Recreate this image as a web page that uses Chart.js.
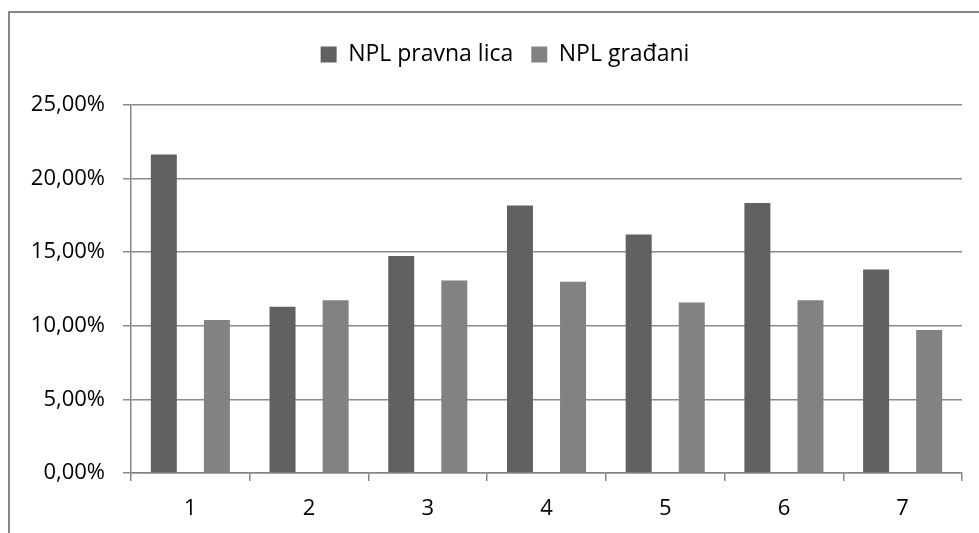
<!DOCTYPE html>
<html>
<head>
<meta charset="utf-8">
<script src="https://cdn.jsdelivr.net/npm/chart.js@4.4.0/dist/chart.umd.min.js"></script>
<style>
  body { margin: 0; background: #fff; }
  #wrap { position: relative; width: 979px; height: 533px; }
</style>
</head>
<body>
<div id="wrap"><canvas id="chart"></canvas></div>
<script>
const categories = ['1', '2', '3', '4', '5', '6', '7'];
const nplPravnaLica = [21.64, 11.30, 14.74, 18.18, 16.21, 18.34, 13.83];
const nplGradjani = [10.39, 11.73, 13.08, 13.00, 11.59, 11.73, 9.71];
const yTicks = [0, 5, 10, 15, 20, 25];

const fontFamily = "'Open Sans', sans-serif";

// outer frame (top and left edges only, the rest is cut off)
const framePlugin = {
    id: 'frame',
    beforeDraw(chart) {
        const ctx = chart.ctx;
        ctx.save();
        ctx.strokeStyle = '#868686';
        ctx.lineWidth = 2;
        ctx.beginPath();
        ctx.moveTo(9, 533);
        ctx.lineTo(9, 12);
        ctx.lineTo(979, 12);
        ctx.stroke();
        ctx.restore();
    }
};

// legend takes the whole space above the plot, and sits a bit right of centre
const legendTweak = {
    id: 'legendTweak',
    beforeInit(chart) {
        const fit = chart.legend.fit;
        chart.legend.fit = function () {
            fit.bind(chart.legend)();
            this.height = 80;
        };
    },
    afterLayout(chart) {
        chart.legend.left += 48;
        chart.legend.width -= 48;
    }
};

const ctx = document.getElementById('chart').getContext('2d');
const chart = new Chart(ctx, {
    type: 'bar',
    data: {
        labels: categories,
        datasets: [{
            label: 'NPL pravna lica',
            data: nplPravnaLica,
            backgroundColor: '#616161',
            borderWidth: 0
        }, {
            label: 'NPL građani',
            data: nplGradjani,
            backgroundColor: '#828282',
            borderWidth: 0
        }]
    },
    options: {
        responsive: true,
        maintainAspectRatio: false,
        animation: false,
        categoryPercentage: 0.894,
        barPercentage: 0.49,
        layout: {
            padding: { top: 25, left: 0, right: 17, bottom: 0 }
        },
        plugins: {
            legend: {
                position: 'top',
                labels: {
                    boxWidth: 16,
                    boxHeight: 16,
                    padding: 18,
                    color: '#000',
                    font: { family: fontFamily, size: 23 }
                }
            },
            tooltip: { enabled: false }
        },
        scales: {
            x: {
                afterFit(scale) { scale.height = 60; },
                grid: {
                    display: true,
                    drawOnChartArea: false,
                    offset: true,
                    tickLength: 8,
                    color: '#868686',
                    lineWidth: 1.5
                },
                border: { color: '#868686', width: 1.5 },
                ticks: {
                    color: '#000',
                    padding: 15,
                    font: { family: fontFamily, size: 22 }
                }
            },
            y: {
                min: 0,
                max: 25,
                afterFit(scale) { scale.width = 131; },
                afterBuildTicks(scale) {
                    scale.ticks = yTicks.map(v => ({ value: v }));
                },
                grid: {
                    color: '#8a8a8a',
                    lineWidth: 1.5,
                    tickLength: 8
                },
                border: { color: '#868686', width: 1.5 },
                ticks: {
                    color: '#000',
                    padding: 18,
                    font: { family: fontFamily, size: 22 },
                    callback: (v) => v.toFixed(2).replace('.', ',') + '%'
                }
            }
        }
    },
    plugins: [framePlugin, legendTweak]
});
</script>
</body>
</html>
